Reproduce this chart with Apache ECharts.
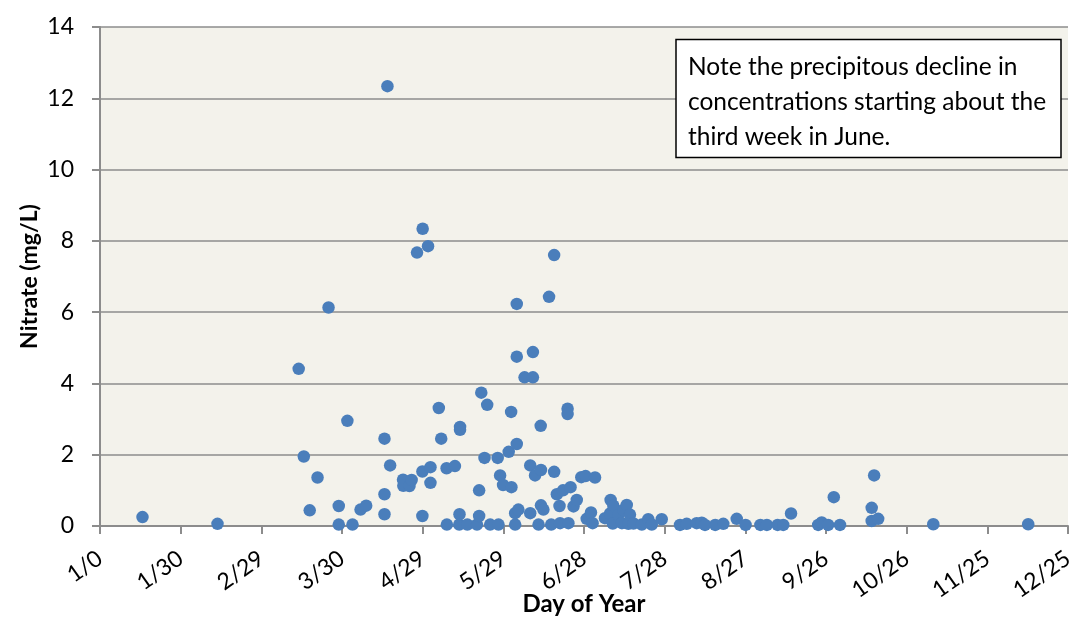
<!DOCTYPE html>
<html>
<head>
<meta charset="utf-8">
<script src="https://cdn.jsdelivr.net/npm/echarts@6/dist/echarts.min.js"></script>
<style>
  html, body { margin: 0; padding: 0; background: #fff; }
  #chart { width: 1075px; height: 618px; }
</style>
</head>
<body>
<div id="chart"></div>
<script>
// day of year for each sample
const dayOfYear = [
  15.8, 43.7, 73.9, 75.8, 78.0, 80.9, 85.0, 88.8, 88.8, 92.0,
  93.9, 96.9, 99.0, 105.8, 105.8, 105.8, 106.9, 107.9, 112.7, 112.8,
  115.1, 115.9, 117.9, 119.9, 119.9, 120.0, 122.0, 122.9, 122.9, 126.0,
  126.9, 128.9, 129.0, 132.0, 133.6, 133.7, 133.9, 133.9, 136.6, 140.2,
  141.0, 141.0, 141.8, 143.0, 144.0, 145.1, 147.9, 148.2, 148.8, 149.9,
  152.0, 152.9, 153.0, 154.4, 154.4, 155.0, 155.0, 155.0, 155.6, 157.9,
  160.0, 160.0, 161.0, 161.0, 161.8, 163.1, 163.9, 164.0, 164.0, 164.9,
  167.0, 167.8, 168.9, 168.9, 169.9, 170.9, 171.1, 172.2, 173.9, 173.9,
  174.2, 175.0, 176.1, 177.3, 179.0, 180.6, 181.0, 182.6, 183.2, 184.1,
  187.8, 189.7, 189.9, 190.7, 190.9, 192.8, 194.1, 194.6, 195.9, 196.5,
  197.1, 198.4, 201.5, 203.9, 205.2, 208.9, 215.7, 218.2, 221.9, 223.8,
  225.0, 228.8, 231.8, 236.8, 240.1, 245.6, 248.0, 252.0, 254.1, 257.0,
  267.1, 268.4, 270.8, 272.9, 275.2, 287.0, 287.0, 287.9, 289.4, 309.9,
  345.2
]
// nitrate (mg/L), same order
const nitrate = [
  0.25, 0.06, 4.41, 1.95, 0.44, 1.36, 6.13, 0.56, 0.04, 2.95,
  0.04, 0.46, 0.57, 2.45, 0.89, 0.33, 12.34, 1.70, 1.30, 1.13,
  1.12, 1.29, 7.67, 1.53, 0.28, 8.34, 7.85, 1.65, 1.21, 3.31,
  2.45, 1.62, 0.04, 1.68, 0.04, 0.33, 2.78, 2.70, 0.04, 0.04,
  0.28, 1.00, 3.74, 1.91, 3.40, 0.04, 1.91, 0.04, 1.42, 1.15,
  2.08, 3.20, 1.09, 0.36, 0.04, 6.23, 4.75, 2.30, 0.46, 4.17,
  1.70, 0.36, 4.17, 4.88, 1.42, 0.04, 2.81, 1.57, 0.58, 0.46,
  6.43, 0.04, 7.60, 1.52, 0.89, 0.56, 0.08, 1.00, 3.29, 3.14,
  0.08, 1.09, 0.55, 0.73, 1.37, 1.40, 0.20, 0.38, 0.08, 1.36,
  0.22, 0.35, 0.73, 0.07, 0.57, 0.31, 0.08, 0.45, 0.59, 0.06,
  0.32, 0.07, 0.04, 0.19, 0.04, 0.19, 0.03, 0.06, 0.08, 0.09,
  0.03, 0.03, 0.06, 0.20, 0.03, 0.03, 0.03, 0.03, 0.03, 0.35,
  0.03, 0.10, 0.03, 0.81, 0.03, 0.51, 0.14, 1.42, 0.20, 0.05,
  0.05
]
const xTickLabels = ['1/0', '1/30', '2/29', '3/30', '4/29', '5/29', '6/28',
  '7/28', '8/27', '9/26', '10/26', '11/25', '12/25']
const noteLines = [
  'Note the precipitous decline in',
  'concentrations starting about the',
  'third week in June.'
]

const font = 'Lato, "Noto Sans", sans-serif'
const axisGray = '#8c8c8c'

const points = dayOfYear.map((d, i) => [d, nitrate[i]])

const chart = echarts.init(document.getElementById('chart'))
chart.setOption({
  animation: false,
  textStyle: { fontFamily: font },
  grid: {
    left: 100, right: 7, top: 27, bottom: 92,
    outerBoundsMode: 'none',
    show: true, backgroundColor: '#f3f2eb', borderWidth: 0
  },
  xAxis: {
    type: 'value',
    min: 0, max: 360, interval: 30,
    name: 'Day of Year',
    nameLocation: 'middle',
    nameGap: 66,
    nameMoveOverlap: false,
    nameTextStyle: { fontSize: 24, fontWeight: 'bold', color: '#000', fontFamily: font },
    axisLine: { show: true, lineStyle: { color: axisGray, width: 2 } },
    axisTick: { show: true, length: 8, lineStyle: { color: axisGray, width: 2 } },
    splitLine: { show: false },
    axisLabel: {
      rotate: 35, margin: 30, fontSize: 23, color: '#000', fontFamily: font,
      formatter: v => xTickLabels[Math.round(v / 30)]
    }
  },
  yAxis: {
    type: 'value',
    min: 0, max: 14, interval: 2,
    name: 'Nitrate (mg/L)',
    nameLocation: 'middle',
    nameGap: 59,
    nameMoveOverlap: false,
    nameTextStyle: { fontSize: 23, fontWeight: 'bold', color: '#000', fontFamily: font },
    axisLine: { show: true, lineStyle: { color: axisGray, width: 2 } },
    axisTick: { show: true, length: 8, lineStyle: { color: axisGray, width: 2 } },
    splitLine: { show: true, lineStyle: { color: axisGray, width: 1.5 } },
    axisLabel: { margin: 26, fontSize: 23, color: '#000', fontFamily: font }
  },
  series: [
    {
      type: 'scatter',
      data: points,
      symbolSize: 12.5,
      itemStyle: { color: '#4a7ebb', opacity: 1 }
    }
  ],
  graphic: [
    {
      type: 'rect',
      z: 100,
      shape: { x: 676, y: 39.5, width: 385, height: 118 },
      style: { fill: '#fff', stroke: '#000', lineWidth: 1.5 }
    },
    {
      type: 'text',
      z: 101,
      x: 688, y: 50,
      style: {
        text: noteLines.join('\n'),
        font: '24.5px ' + font,
        fill: '#000',
        lineHeight: 35
      }
    }
  ]
})
</script>
</body>
</html>
